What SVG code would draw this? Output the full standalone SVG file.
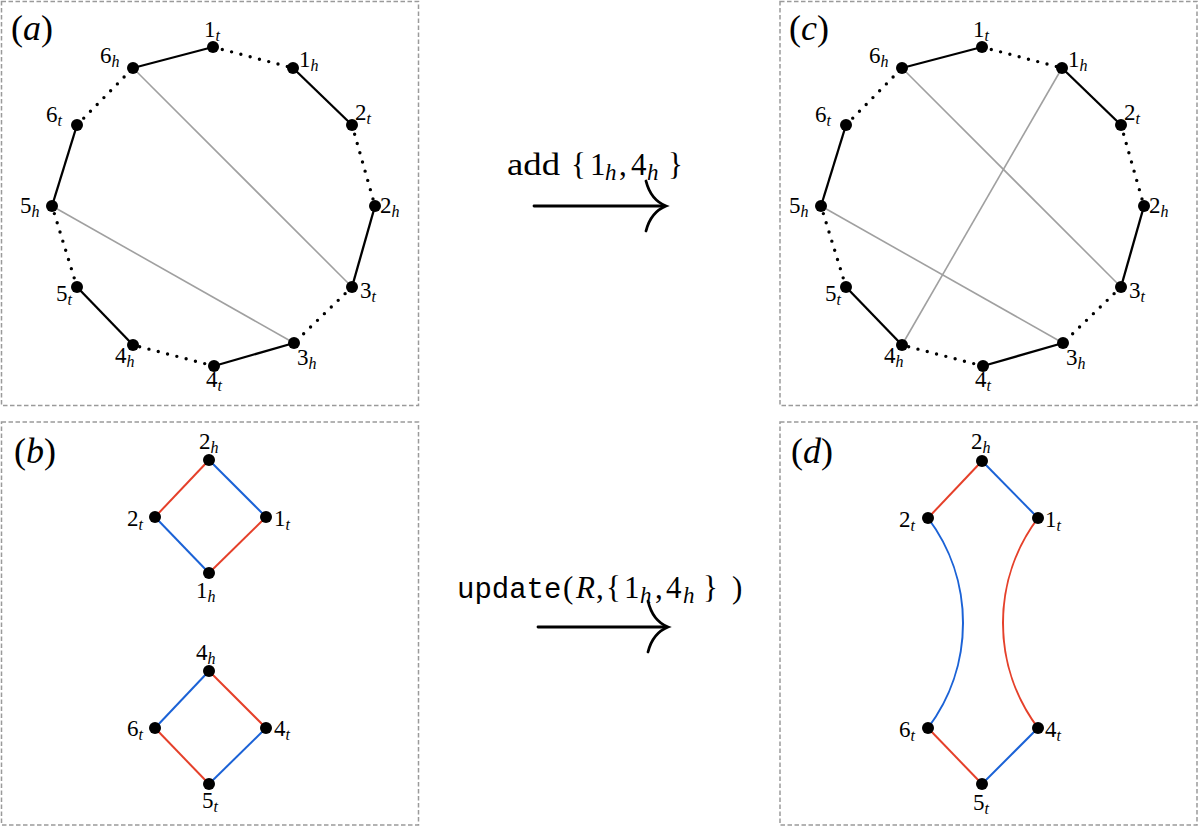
<svg xmlns="http://www.w3.org/2000/svg" width="1200" height="827" viewBox="0 0 1200 827">
<style>
.box{fill:none;stroke:#9a9a9a;stroke-width:1.5;stroke-dasharray:4.5 2.5}
.s{stroke:#000;stroke-width:2.3;fill:none}
.d{stroke:#000;stroke-width:3.4;fill:none;stroke-linecap:round;stroke-dasharray:0 9.6}
.g{stroke:#a0a0a0;stroke-width:1.6;fill:none}
.r{stroke:#e5402a;stroke-width:2;fill:none}
.b{stroke:#1b62d6;stroke-width:2;fill:none}
.ah{stroke:#000;stroke-width:2.8;fill:none;stroke-linecap:round}
circle{fill:#000}
text{font-family:"Liberation Serif","DejaVu Serif",serif;font-size:23px;fill:#000}
.sub{font-style:italic;font-size:16px}
.pl{font-size:36px}
.it{font-style:italic}
.big{font-size:31px}
.bsub{font-style:italic;font-size:23px}
.mono{font-family:"Liberation Mono","DejaVu Sans Mono",monospace;font-size:29px}
</style>
<g id="frames">
<rect class="box" x="1.5" y="1.5" width="417" height="404"/>
<rect class="box" x="780" y="1.5" width="417" height="404"/>
<rect class="box" x="1.5" y="422" width="417" height="403"/>
<rect class="box" x="780" y="422" width="417" height="403"/>
</g>
<g id="panel-labels">
<text class="pl" x="11" y="40">(<tspan class="it">a</tspan>)</text>
<text class="pl" x="14" y="463">(<tspan class="it">b</tspan>)</text>
<text class="pl" x="789" y="40">(<tspan class="it">c</tspan>)</text>
<text class="pl" x="791" y="463">(<tspan class="it">d</tspan>)</text>
</g>
<g id="connectors">
<line class="s" x1="213" y1="47" x2="133" y2="68"/>
<line class="s" x1="293" y1="68" x2="352" y2="125"/>
<line class="s" x1="375" y1="206" x2="352" y2="287"/>
<line class="s" x1="294" y1="343" x2="214" y2="366"/>
<line class="s" x1="133" y1="345" x2="77" y2="287"/>
<line class="s" x1="52" y1="206" x2="77" y2="125"/>
<line class="d" x1="213" y1="47" x2="293" y2="68"/>
<line class="d" x1="352" y1="125" x2="375" y2="206"/>
<line class="d" x1="352" y1="287" x2="294" y2="343"/>
<line class="d" x1="214" y1="366" x2="133" y2="345"/>
<line class="d" x1="77" y1="287" x2="52" y2="206"/>
<line class="d" x1="77" y1="125" x2="133" y2="68"/>
<line class="g" x1="133" y1="68" x2="352" y2="287"/>
<line class="g" x1="52" y1="206" x2="294" y2="343"/>
<g transform="translate(769,0)">
<line class="s" x1="213" y1="47" x2="133" y2="68"/>
<line class="s" x1="293" y1="68" x2="352" y2="125"/>
<line class="s" x1="375" y1="206" x2="352" y2="287"/>
<line class="s" x1="294" y1="343" x2="214" y2="366"/>
<line class="s" x1="133" y1="345" x2="77" y2="287"/>
<line class="s" x1="52" y1="206" x2="77" y2="125"/>
<line class="d" x1="213" y1="47" x2="293" y2="68"/>
<line class="d" x1="352" y1="125" x2="375" y2="206"/>
<line class="d" x1="352" y1="287" x2="294" y2="343"/>
<line class="d" x1="214" y1="366" x2="133" y2="345"/>
<line class="d" x1="77" y1="287" x2="52" y2="206"/>
<line class="d" x1="77" y1="125" x2="133" y2="68"/>
<line class="g" x1="133" y1="68" x2="352" y2="287"/>
<line class="g" x1="52" y1="206" x2="294" y2="343"/>
<line class="g" x1="293" y1="68" x2="133" y2="345"/>
</g>
<line class="r" x1="209" y1="460" x2="155" y2="517"/>
<line class="b" x1="209" y1="460" x2="266" y2="517"/>
<line class="b" x1="155" y1="517" x2="209" y2="573"/>
<line class="r" x1="266" y1="517" x2="209" y2="573"/>
<line class="b" x1="209" y1="671" x2="155" y2="728"/>
<line class="r" x1="209" y1="671" x2="266" y2="728"/>
<line class="r" x1="155" y1="728" x2="209" y2="784"/>
<line class="b" x1="266" y1="728" x2="209" y2="784"/>
<line class="r" x1="982" y1="461" x2="928" y2="518"/>
<line class="b" x1="982" y1="461" x2="1038" y2="518"/>
<path class="b" d="M928,518 A175,175 0 0 1 928,728"/>
<path class="r" d="M1038,518 A175,175 0 0 0 1038,728"/>
<line class="r" x1="928" y1="728" x2="982" y2="784"/>
<line class="b" x1="1038" y1="728" x2="982" y2="784"/>
<line class="ah" x1="534" y1="206" x2="664" y2="206"/>
<path class="ah" d="M646,181 C649,193 656,202 666,206 C656,210 649,219 646,231"/>
<line class="ah" x1="538" y1="627" x2="666" y2="627"/>
<path class="ah" d="M648,601 C651,614 658,623 668,627 C658,631 651,640 648,652"/>
</g>
<g id="nodes-a">
<g id="a-1t"><circle cx="213" cy="47" r="6"/><text x="204" y="37">1<tspan class="sub" dy="4">t</tspan></text></g>
<g id="a-1h"><circle cx="293" cy="68" r="6"/><text x="299" y="67">1<tspan class="sub" dy="4">h</tspan></text></g>
<g id="a-2t"><circle cx="352" cy="125" r="6"/><text x="355" y="120">2<tspan class="sub" dy="4">t</tspan></text></g>
<g id="a-2h"><circle cx="375" cy="206" r="6"/><text x="380" y="213">2<tspan class="sub" dy="4">h</tspan></text></g>
<g id="a-3t"><circle cx="352" cy="287" r="6"/><text x="360" y="298">3<tspan class="sub" dy="4">t</tspan></text></g>
<g id="a-3h"><circle cx="294" cy="343" r="6"/><text x="297" y="365">3<tspan class="sub" dy="4">h</tspan></text></g>
<g id="a-4t"><circle cx="214" cy="366" r="6"/><text x="206" y="387">4<tspan class="sub" dy="4">t</tspan></text></g>
<g id="a-4h"><circle cx="133" cy="345" r="6"/><text x="115" y="363">4<tspan class="sub" dy="4">h</tspan></text></g>
<g id="a-5t"><circle cx="77" cy="287" r="6"/><text x="56" y="301">5<tspan class="sub" dy="4">t</tspan></text></g>
<g id="a-5h"><circle cx="52" cy="206" r="6"/><text x="20" y="213">5<tspan class="sub" dy="4">h</tspan></text></g>
<g id="a-6t"><circle cx="77" cy="125" r="6"/><text x="46" y="122">6<tspan class="sub" dy="4">t</tspan></text></g>
<g id="a-6h"><circle cx="133" cy="68" r="6"/><text x="100" y="63">6<tspan class="sub" dy="4">h</tspan></text></g>
</g>
<g id="nodes-c" transform="translate(769,0)">
<g id="c-1t"><circle cx="213" cy="47" r="6"/><text x="204" y="37">1<tspan class="sub" dy="4">t</tspan></text></g>
<g id="c-1h"><circle cx="293" cy="68" r="6"/><text x="299" y="67">1<tspan class="sub" dy="4">h</tspan></text></g>
<g id="c-2t"><circle cx="352" cy="125" r="6"/><text x="355" y="120">2<tspan class="sub" dy="4">t</tspan></text></g>
<g id="c-2h"><circle cx="375" cy="206" r="6"/><text x="380" y="213">2<tspan class="sub" dy="4">h</tspan></text></g>
<g id="c-3t"><circle cx="352" cy="287" r="6"/><text x="360" y="298">3<tspan class="sub" dy="4">t</tspan></text></g>
<g id="c-3h"><circle cx="294" cy="343" r="6"/><text x="297" y="365">3<tspan class="sub" dy="4">h</tspan></text></g>
<g id="c-4t"><circle cx="214" cy="366" r="6"/><text x="206" y="387">4<tspan class="sub" dy="4">t</tspan></text></g>
<g id="c-4h"><circle cx="133" cy="345" r="6"/><text x="115" y="363">4<tspan class="sub" dy="4">h</tspan></text></g>
<g id="c-5t"><circle cx="77" cy="287" r="6"/><text x="56" y="301">5<tspan class="sub" dy="4">t</tspan></text></g>
<g id="c-5h"><circle cx="52" cy="206" r="6"/><text x="20" y="213">5<tspan class="sub" dy="4">h</tspan></text></g>
<g id="c-6t"><circle cx="77" cy="125" r="6"/><text x="46" y="122">6<tspan class="sub" dy="4">t</tspan></text></g>
<g id="c-6h"><circle cx="133" cy="68" r="6"/><text x="100" y="63">6<tspan class="sub" dy="4">h</tspan></text></g>
</g>
<g id="nodes-b">
<g id="b-2h"><circle cx="209" cy="460" r="6"/><text x="199" y="449">2<tspan class="sub" dy="4">h</tspan></text></g>
<g id="b-2t"><circle cx="155" cy="517" r="6"/><text x="127" y="526">2<tspan class="sub" dy="4">t</tspan></text></g>
<g id="b-1t"><circle cx="266" cy="517" r="6"/><text x="274" y="526">1<tspan class="sub" dy="4">t</tspan></text></g>
<g id="b-1h"><circle cx="209" cy="573" r="6"/><text x="196" y="598">1<tspan class="sub" dy="4">h</tspan></text></g>
<g id="b-4h"><circle cx="209" cy="671" r="6"/><text x="196" y="660">4<tspan class="sub" dy="4">h</tspan></text></g>
<g id="b-6t"><circle cx="155" cy="728" r="6"/><text x="127" y="736">6<tspan class="sub" dy="4">t</tspan></text></g>
<g id="b-4t"><circle cx="266" cy="728" r="6"/><text x="274" y="736">4<tspan class="sub" dy="4">t</tspan></text></g>
<g id="b-5t"><circle cx="209" cy="784" r="6"/><text x="202" y="808">5<tspan class="sub" dy="4">t</tspan></text></g>
</g>
<g id="nodes-d">
<g id="d-2h"><circle cx="982" cy="461" r="6"/><text x="971" y="449">2<tspan class="sub" dy="4">h</tspan></text></g>
<g id="d-2t"><circle cx="928" cy="518" r="6"/><text x="899" y="527">2<tspan class="sub" dy="4">t</tspan></text></g>
<g id="d-1t"><circle cx="1038" cy="518" r="6"/><text x="1045" y="527">1<tspan class="sub" dy="4">t</tspan></text></g>
<g id="d-6t"><circle cx="928" cy="728" r="6"/><text x="899" y="737">6<tspan class="sub" dy="4">t</tspan></text></g>
<g id="d-4t"><circle cx="1038" cy="728" r="6"/><text x="1045" y="737">4<tspan class="sub" dy="4">t</tspan></text></g>
<g id="d-5t"><circle cx="982" cy="784" r="6"/><text x="973" y="810">5<tspan class="sub" dy="4">t</tspan></text></g>
</g>
<g id="arrow-labels">
<text class="big" y="175"><tspan x="507" textLength="53" lengthAdjust="spacingAndGlyphs">add</tspan><tspan x="571">{</tspan><tspan x="590">1</tspan><tspan class="bsub" x="605" dy="5">h</tspan><tspan x="619" dy="-5">,</tspan><tspan x="631">4</tspan><tspan class="bsub" x="647" dy="5">h</tspan><tspan x="668" dy="-5">}</tspan></text>
<text class="big" y="598"><tspan class="mono" x="457">update</tspan><tspan x="563">(</tspan><tspan class="it" x="576">R</tspan><tspan x="596">,</tspan><tspan x="606">{</tspan><tspan x="624">1</tspan><tspan class="bsub" x="640" dy="5">h</tspan><tspan x="655" dy="-5">,</tspan><tspan x="666">4</tspan><tspan class="bsub" x="683" dy="5">h</tspan><tspan x="703" dy="-5">}</tspan><tspan x="732">)</tspan></text>
</g>
</svg>
